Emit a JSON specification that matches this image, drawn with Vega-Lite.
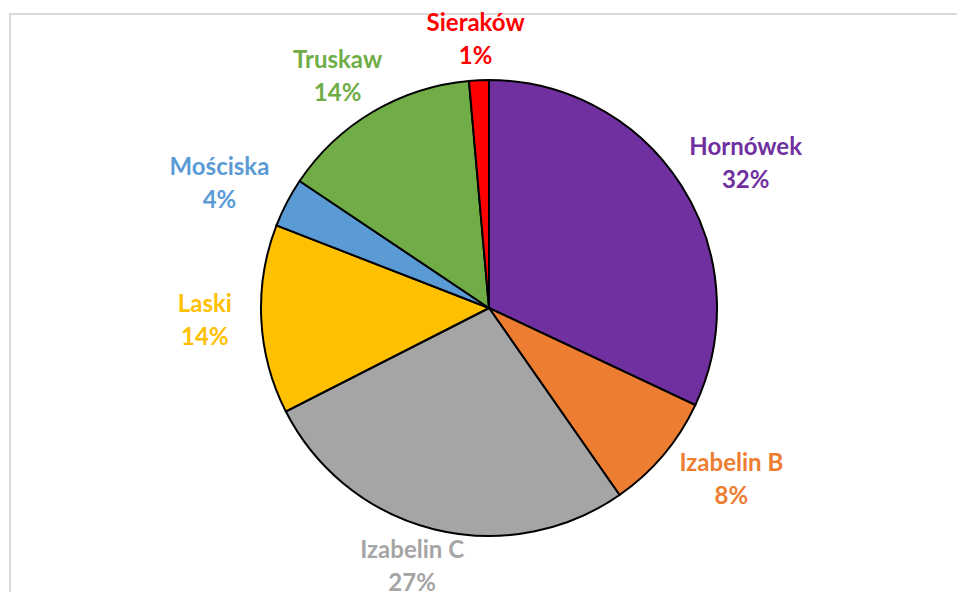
{
  "$schema": "https://vega.github.io/schema/vega-lite/v6.json",
  "width": 958,
  "height": 588,
  "autosize": {"type": "none"},
  "padding": {"left": 10, "top": 14, "right": 0, "bottom": 0},
  "background": "white",
  "config": {"view": {"stroke": null}},
  "datasets": {
    "shares": [
      {"rank": 1, "name": "Hornówek", "value": 32.0, "label": "Hornówek\n32%"},
      {"rank": 2, "name": "Izabelin B", "value": 8.3, "label": "Izabelin B\n8%"},
      {"rank": 3, "name": "Izabelin C", "value": 27.2, "label": "Izabelin C\n27%"},
      {"rank": 4, "name": "Laski", "value": 13.4, "label": "Laski\n14%"},
      {"rank": 5, "name": "Mościska", "value": 3.5, "label": "Mościska\n4%"},
      {"rank": 6, "name": "Truskaw", "value": 14.2, "label": "Truskaw\n14%"},
      {"rank": 7, "name": "Sieraków", "value": 1.4, "label": "Sieraków\n1%"}
    ],
    "frame": [{"frame": 1}]
  },
  "layer": [
    {
      "data": {"name": "frame"},
      "mark": {"type": "rect", "fill": null, "stroke": "#d9d9d9", "strokeWidth": 2}
    },
    {
      "data": {"name": "shares"},
      "encoding": {
        "theta": {"field": "value", "type": "quantitative", "stack": true},
        "order": {"field": "rank", "type": "quantitative"},
        "color": {
          "field": "name",
          "type": "nominal",
          "scale": {
            "domain": ["Hornówek", "Izabelin B", "Izabelin C", "Laski", "Mościska", "Truskaw", "Sieraków"],
            "range": ["#7030A0", "#ED7D31", "#A5A5A5", "#FFC000", "#5B9BD5", "#70AD47", "#FF0000"]
          },
          "legend": null
        }
      },
      "layer": [
        {"mark": {"type": "arc", "outerRadius": 228, "stroke": "black", "strokeWidth": 2}},
        {
          "mark": {
            "type": "text",
            "radius": 252,
            "dx": {"expr": "sin(scale('theta', (datum.value_start + datum.value_end) / 2)) * 6.5 * length(datum.name)"},
            "dy": {"expr": "-cos(scale('theta', (datum.value_start + datum.value_end) / 2)) * 16 - 16.5"},
            "font": "Lato", "fontWeight": "bold", "fontSize": 24, "lineBreak": "\n", "lineHeight": 33, "baseline": "middle", "align": "center"
          },
          "encoding": {"text": {"field": "label", "type": "nominal"}}
        }
      ]
    }
  ]
}
